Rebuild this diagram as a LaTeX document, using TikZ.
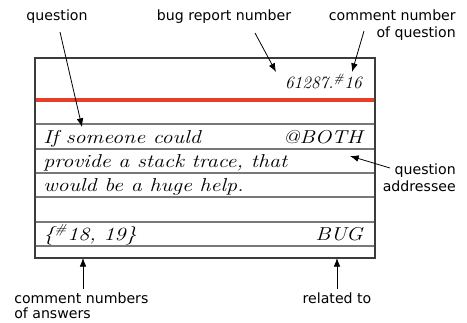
\documentclass[tikz,border=0pt]{standalone}
\usepackage{fontspec}
\setsansfont{DejaVu Sans}
\newfontfamily\manuscrit{lmroman12-italic.otf}[FakeStretch=1.18]
\usetikzlibrary{arrows.meta}
\definecolor{rouge}{RGB}{230,62,40}
\definecolor{bord}{RGB}{60,60,60}
\definecolor{ligne}{RGB}{120,120,120}

\begin{document}
\begin{tikzpicture}[x=0.75pt,y=-0.75pt,
  etiquette/.style={font=\sffamily\fontsize{10.6}{13}\selectfont,inner sep=0pt},
  main/.style={font=\manuscrit\fontsize{14}{16}\selectfont,inner sep=0pt},
  chiffre/.style={font=\itshape\fontsize{13}{15}\selectfont,inner sep=0pt},
  fleche/.style={-{Latex[length=6.5pt,width=5pt]},line width=0.6pt}]
\useasboundingbox (0,0) rectangle (467,322);

% la fiche
  \foreach \y in {124,149,173,197,222,246}
    \draw[ligne,line width=0.9pt] (35,\y) -- (375,\y);
  \draw[rouge,line width=2.4pt] (35,100) -- (375,100);
  \draw[bord,line width=1pt] (35,58) rectangle (375,258);

% le texte de la fiche
  \node[chiffre,anchor=base east] (num) at (362,88) {61287.\textsuperscript{\#}16};
  \node[main,anchor=base west] (l1) at (43,143) {If someone could};
  \node[main,anchor=base east] (dest) at (363,143) {@BOTH};
  \node[main,anchor=base west] (l2) at (43,167) {provide a stack trace, that};
  \node[main,anchor=base west] (l3) at (43,191) {would be a huge help.};
  \node[main,anchor=base west] (rep) at (43,240) {\{\textsuperscript{\#}18, 19\}};
  \node[main,anchor=base east] (lien) at (363,240) {BUG};

% les légendes
  \node[etiquette] (qlab) at (57,17) {question};
  \node[etiquette] (blab) at (224,17) {bug report number};
  \node[etiquette,align=right,anchor=north east] (clab) at (456,9) {comment number\\of question};
  \node[etiquette,align=right,anchor=east] (alab) at (456,178) {question\\addressee};
  \node[etiquette,align=left,anchor=north west,font=\sffamily\fontsize{10.6}{11.4}\selectfont] (rlab) at (14,292) {comment numbers\\of answers};
  \node[etiquette,anchor=north] (tlab) at (337,292) {related to};

% les flèches
  \coordinate (qdep) at (60,32);
  \coordinate (qpt) at (82,127);
  \coordinate (bdep) at (255,33);
  \coordinate (bpt) at (276,72);
  \coordinate (cdep) at (364,31);
  \coordinate (cpt) at (352,72);
  \coordinate (adep) at (390,168);
  \coordinate (apt) at (350,156);
  \coordinate (rpt) at (83,258);
  \coordinate (tpt) at (337,258);
  \draw[fleche] (qdep) -- (qpt);
  \draw[fleche] (bdep) -- (bpt);
  \draw[fleche] (cdep) -- (cpt);
  \draw[fleche] (adep) -- (apt);
  \draw[fleche] (rlab.north west -| rpt) ++(0,-3) -- (rpt);
  \draw[fleche] (tlab.north) ++(0,-3) -- (tpt);
\end{tikzpicture}
\end{document}
